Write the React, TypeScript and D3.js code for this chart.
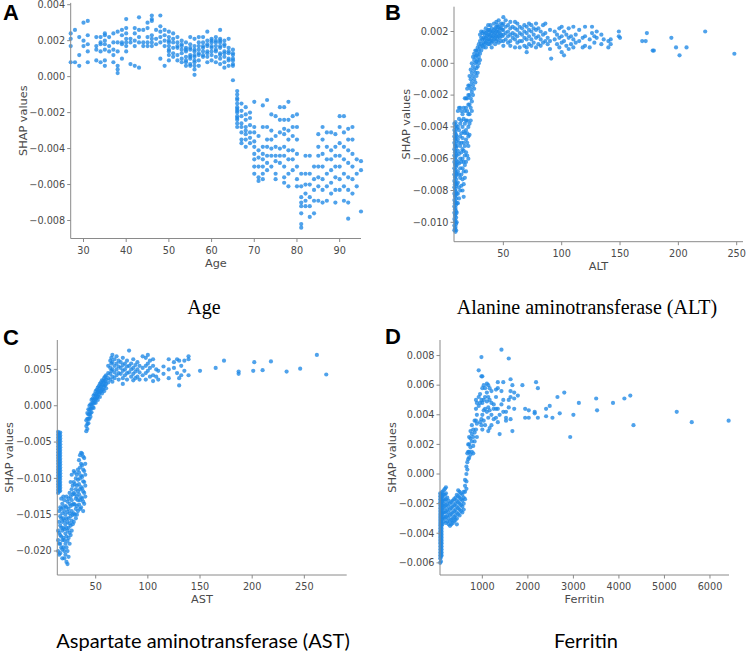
import React from "react";
import * as d3 from "d3";

// SHAP values below are stored in units of 1e-4
const SHAP_UNIT = 1e-4;

// Panel A: Age -> SHAP values (x1e-4)
const ageColumns: [number, number[]][] = [
  [27, [24, 21, 17, 8]],
  [28, [26, 8]],
  [29, [22, 12, 6]],
  [30, [30, 20, 17]],
  [31, [31, 23, 18, 14, 8]],
  [33, [22, 17, 15, 9]],
  [34, [22, 19, 18, 14, 8]],
  [35, [24, 23, 20, 18, 15, 9, 6]],
  [36, [22, 17, 14]],
  [37, [24, 19, 15, 12, 8]],
  [38, [25, 19, 14, 6, 4, 2]],
  [39, [26, 23, 19, 18, 10]],
  [40, [32, 27, 24, 21, 19, 17, 14]],
  [41, [21, 19, 7]],
  [42, [27, 24, 20, 17, 6]],
  [43, [33, 26, 22, 19, 5]],
  [44, [26, 19, 17]],
  [45, [30, 27, 22, 19, 17]],
  [46, [34, 32, 31, 23, 21, 19, 17]],
  [47, [26, 21, 18]],
  [48, [34, 28, 25, 22, 19, 10]],
  [49, [26, 23, 20, 17, 6]],
  [50, [25, 22, 20, 19, 17, 15, 14, 12, 9]],
  [51, [24, 21, 19, 16, 13, 11]],
  [52, [22, 19, 17, 16, 12, 9]],
  [53, [20, 18, 17, 15, 13, 10, 8]],
  [54, [19, 16, 15, 14, 11, 9, 8, 6]],
  [55, [22, 18, 16, 15, 12, 11, 10, 7, 6]],
  [56, [21, 17, 15, 14, 12, 11, 9, 8, 6, 4, 1]],
  [57, [22, 19, 17, 15, 13, 12, 9, 6]],
  [58, [22, 19, 17, 16, 14, 12, 11]],
  [59, [25, 20, 18, 17, 14, 13, 11, 8]],
  [60, [21, 20, 19, 17, 16, 14, 12, 9]],
  [61, [22, 20, 19, 17, 15, 14, 11, 8]],
  [62, [26, 21, 20, 19, 17, 16, 13, 12, 10, 7]],
  [63, [20, 18, 17, 14, 13, 11, 8, 5]],
  [64, [21, 16, 14, 13, 10, 9, 6]],
  [65, [15, 13, 12, 10, 9, 7, 6, -2]],
  [66, [-8, -10, -12, -13, -15, -17, -18, -19, -20, -22, -23, -24, -26, -28]],
  [67, [-15, -19, -22, -26, -28, -31, -35, -37]],
  [68, [-17, -21, -24, -28, -30, -32, -35, -39]],
  [69, [-20, -23, -27, -31, -34, -37]],
  [70, [-14, -28, -31, -36, -39, -43, -46, -50, -54]],
  [71, [-33, -41, -45, -50, -56, -58]],
  [72, [-16, -28, -39, -43, -46, -50, -54, -57]],
  [73, [-13, -28, -35, -39, -44, -48, -52]],
  [74, [-21, -30, -35, -40, -44, -50]],
  [75, [-22, -33, -39, -44, -47, -54, -57]],
  [76, [-17, -24, -31, -40, -44, -48]],
  [77, [-17, -24, -29, -32, -39, -44, -50, -56, -59]],
  [78, [-14, -24, -30, -35, -41, -46, -54, -61]],
  [79, [-22, -28, -33, -41, -46, -52]],
  [80, [-21, -28, -35, -43, -50, -57, -61]],
  [81, [-54, -61, -67, -70, -72, -76, -82, -84]],
  [82, [-44, -54, -60, -65, -69, -72]],
  [83, [-44, -54, -60, -67, -72, -78]],
  [84, [-50, -57, -63, -69, -76]],
  [85, [-32, -39, -44, -50, -56, -61, -69]],
  [86, [-28, -35, -43, -50, -57, -63, -70]],
  [87, [-31, -39, -46, -54, -61, -69]],
  [88, [-31, -41, -46, -52, -59, -65]],
  [89, [-32, -39, -44, -50, -56, -63, -70]],
  [90, [-22, -28, -37, -44, -50, -57, -63]],
  [91, [-22, -31, -39, -46, -54, -61, -69]],
  [92, [-29, -35, -41, -48, -56, -63, -70, -79]],
  [93, [-28, -35, -43, -50, -57, -65]],
  [94, [-46, -54, -61]],
  [95, [-47, -52, -75]],
];

// Panel B: ALT -> SHAP values (x1e-4)
const altColumns: [number, number[]][] = [
  [8, [-38, -42, -46, -50, -54, -58, -62, -66, -70, -74, -78, -82, -86, -90, -94, -98, -102, -105]],
  [8.5, [-40, -44, -48, -52, -56, -60, -64, -68, -72, -76, -80, -84, -88, -92, -96, -100, -104]],
  [9, [-37, -43, -47, -51, -55, -59, -63, -67, -71, -75, -79, -83, -87, -91, -95, -99, -103, -106]],
  [9.5, [-39, -45, -49, -53, -57, -61, -65, -69, -73, -77, -81, -85, -89, -93, -97, -101, -105]],
  [10, [-41, -46, -52, -58, -64, -70, -76, -82, -88, -94, -100]],
  [11, [-30, -40, -48, -55, -62, -68, -75, -82, -88]],
  [12, [-28, -35, -42, -50, -57, -63, -70, -78, -85]],
  [13, [-28, -38, -46, -52, -60, -66, -72, -80]],
  [14, [-30, -36, -44, -50, -56, -62, -70, -77]],
  [15, [-32, -40, -47, -54, -60, -66, -73, -80]],
  [16, [-28, -35, -43, -50, -55, -62, -68, -76, -84]],
  [17, [-22, -30, -38, -44, -52, -58, -64, -72]],
  [18, [-22, -28, -36, -42, -48, -56, -62, -68]],
  [19, [-16, -22, -30, -36, -44, -50, -58]],
  [20, [-14, -20, -26, -32, -40, -46, -52, -60]],
  [21, [-8, -14, -20, -26, -32, -38, -45]],
  [22, [-4, -10, -16, -22, -28, -36]],
  [23, [0, -6, -12, -18, -24, -30]],
  [24, [4, -2, -8, -14, -20]],
  [25, [6, 2, -4, -10, -16]],
  [26, [8, 4, 0, -6, -12]],
  [27, [8, 5, 1, -3, -8]],
  [28, [10, 6, 2, -2, -6]],
  [29, [12, 8, 4, 0]],
  [30, [18, 14, 10, 6, 2]],
  [31, [20, 16, 12, 8]],
  [32, [19, 15, 11]],
  [33, [20, 16, 13, 10]],
  [34, [18, 15, 12]],
  [35, [22, 19, 16, 13, 10]],
  [36, [20, 17, 14]],
  [37, [24, 21, 18, 15, 12]],
  [38, [21, 18, 15, 12]],
  [39, [24, 20, 17, 14]],
  [40, [22, 19, 16, 13, 10]],
  [41, [20, 17, 14]],
  [42, [25, 21, 18, 15]],
  [43, [22, 19, 16, 12]],
  [44, [26, 23, 20, 17, 14]],
  [45, [24, 21, 18, 15]],
  [46, [27, 23, 20, 17, 13]],
  [47, [22, 19, 16]],
  [48, [25, 22, 18, 14]],
  [49, [24, 21, 17]],
  [50, [29, 25, 21, 18, 14, 11]],
  [52, [27, 23, 19, 15]],
  [54, [24, 20, 17, 13]],
  [56, [26, 22, 18, 14, 11]],
  [58, [23, 19, 16]],
  [60, [26, 22, 18, 15, 10]],
  [62, [25, 21, 17, 13]],
  [64, [23, 19, 14, 10]],
  [66, [22, 18, 14]],
  [68, [24, 20, 16, 11]],
  [70, [23, 19, 15, 10, 7]],
  [72, [25, 21, 17, 12]],
  [74, [24, 20, 15, 11]],
  [76, [22, 18, 13]],
  [78, [25, 21, 16, 10]],
  [80, [22, 17, 12]],
  [82, [20, 15, 11]],
  [84, [24, 18, 13]],
  [86, [25, 19, 14]],
  [88, [16, 12]],
  [90, [21, 14, 9]],
  [91, [3]],
  [94, [20, 15]],
  [96, [18, 12]],
  [98, [22, 16, 10]],
  [100, [23, 17, 13, 7]],
  [102, [20, 14, 5]],
  [104, [18, 11]],
  [106, [22, 16, 9]],
  [108, [17, 12]],
  [110, [23, 15, 10]],
  [112, [18, 13]],
  [115, [21, 14]],
  [118, [16, 10]],
  [120, [23, 17, 11]],
  [124, [15, 10]],
  [126, [23, 19]],
  [128, [17, 13]],
  [130, [20, 16]],
  [134, [18, 12]],
  [136, [15]],
  [140, [14, 10]],
  [142, [15, 12]],
  [149, [20, 17]],
  [150, [16]],
  [169, [14]],
  [172, [14]],
  [173, [19]],
  [178, [8]],
  [179, [8]],
  [194, [16]],
  [198, [10]],
  [201, [5]],
  [207, [10]],
  [223, [20]],
  [248, [6]],
];

// Panel C: AST -> SHAP values (x1e-4)
const astColumns: [number, number[]][] = [
  [14, [-36, -40, -44, -48, -52, -56, -60, -64, -68, -72, -76, -80, -84, -88, -92, -96, -100, -104, -108, -112, -116, -120, -172, -185, -200]],
  [15, [-38, -42, -46, -50, -54, -58, -62, -66, -70, -74, -78, -82, -86, -90, -94, -98, -102, -106, -110, -114, -118, -145, -160, -175, -190, -205]],
  [16, [-37, -41, -45, -49, -53, -57, -61, -65, -69, -73, -77, -81, -85, -89, -93, -97, -101, -105, -109, -113, -117, -140, -152, -165, -178, -190, -203]],
  [17, [-128, -142, -155, -168, -180, -195]],
  [18, [-135, -148, -160, -172, -185, -198, -210]],
  [19, [-125, -140, -155, -168, -182, -195]],
  [20, [-130, -145, -158, -170, -185, -200, -210]],
  [21, [-138, -150, -163, -176, -190, -205]],
  [22, [-125, -140, -155, -168, -180, -195, -215]],
  [23, [-132, -146, -160, -172, -186, -200, -218]],
  [24, [-128, -142, -155, -168, -182, -208]],
  [25, [-120, -135, -148, -162, -175, -190]],
  [26, [-105, -125, -138, -152, -165, -178]],
  [27, [-95, -115, -130, -145, -158, -172]],
  [28, [-110, -122, -136, -150, -163]],
  [29, [-90, -105, -120, -135, -148, -160]],
  [30, [-92, -108, -122, -136, -150]],
  [31, [-100, -115, -128, -142, -155]],
  [32, [-95, -110, -125, -138, -150]],
  [33, [-88, -102, -118, -130, -145]],
  [34, [-75, -92, -108, -122, -136]],
  [35, [-68, -85, -100, -115, -130, -142]],
  [36, [-65, -80, -96, -112, -126, -140]],
  [37, [-66, -82, -98, -114, -128]],
  [38, [-70, -88, -104, -118, -132, -145]],
  [39, [-72, -90, -105, -120, -135]],
  [40, [-80, -95, -110, -125]],
  [41, [-20, -28, -35]],
  [42, [-10, -18, -25, -32]],
  [43, [-5, -12, -18, -24]],
  [44, [0, -6, -12, -18]],
  [45, [2, -4, -10, -15]],
  [46, [8, 2, -4, -9]],
  [47, [10, 4, -2]],
  [48, [14, 8, 3, -3]],
  [49, [16, 10, 5]],
  [50, [20, 14, 9, 4]],
  [51, [22, 16, 11]],
  [52, [25, 19, 13, 8]],
  [53, [27, 21, 16]],
  [54, [30, 24, 18, 12]],
  [55, [32, 26, 20]],
  [56, [35, 29, 23, 17]],
  [57, [34, 28, 22]],
  [58, [38, 32, 26, 20]],
  [59, [40, 34, 28]],
  [60, [42, 36, 30, 24]],
  [62, [55, 45, 38, 32]],
  [64, [62, 52, 44, 36]],
  [65, [66, 58, 48]],
  [66, [70, 60, 50, 40, 33]],
  [68, [64, 55, 46, 38]],
  [70, [68, 58, 50, 42]],
  [72, [62, 54, 45, 36]],
  [74, [60, 52, 44]],
  [76, [66, 56, 48, 38, 30]],
  [78, [58, 50, 42]],
  [80, [62, 54, 45, 36]],
  [82, [76, 55, 46]],
  [84, [58, 50, 40]],
  [86, [64, 52, 44, 35]],
  [88, [56, 47, 38]],
  [90, [60, 50, 40]],
  [92, [55, 46, 36]],
  [95, [68, 52, 42]],
  [98, [66, 55, 45, 36]],
  [100, [70, 58, 48]],
  [102, [62, 52, 40]],
  [105, [64, 55, 42, 34]],
  [108, [50, 40]],
  [110, [48, 36]],
  [115, [54, 44]],
  [120, [64, 50, 38]],
  [125, [60, 52]],
  [128, [64, 45]],
  [130, [62, 38, 28]],
  [132, [55, 42]],
  [135, [62, 48]],
  [139, [68, 64, 42]],
  [150, [48]],
  [165, [52]],
  [173, [62]],
  [187, [47, 44]],
  [201, [48]],
  [202, [60]],
  [210, [49]],
  [218, [61]],
  [233, [47]],
  [246, [51]],
  [262, [70]],
  [271, [43]],
];

// Panel D: Ferritin -> SHAP values (x1e-4)
const ferritinColumns: [number, number[]][] = [
  [75, [-13, -15, -17, -19, -21, -23, -25, -27, -29, -31, -33, -35, -37, -39, -41, -43, -45, -47, -49, -51, -53, -55, -57, -60]],
  [90, [-14, -16, -18, -20, -22, -24, -26, -28, -30, -32, -34, -36, -38, -40, -42, -44, -46, -48, -50, -52, -54, -56, -59]],
  [105, [-13, -15, -17, -19, -21, -23, -25, -27, -29, -31, -33, -35, -37, -39, -41, -43, -45, -47, -49, -51, -53, -55]],
  [120, [-12, -15, -18, -21, -24, -27, -30, -34]],
  [150, [-11, -14, -17, -20, -23, -26, -29, -32]],
  [180, [-10, -14, -18, -22, -26, -30]],
  [200, [-9, -13, -17, -21, -25, -29, -33]],
  [230, [-16, -20, -24, -28, -32]],
  [260, [-18, -22, -26, -30, -34]],
  [290, [-20, -24, -28, -32, -35]],
  [320, [-19, -23, -27, -31, -34]],
  [350, [-18, -22, -26, -30, -33]],
  [380, [-17, -21, -25, -29, -32]],
  [410, [-16, -20, -24, -28, -31]],
  [440, [-14, -18, -22, -26, -30, -34]],
  [470, [-11, -15, -19, -23, -27]],
  [500, [-12, -16, -20, -24, -28]],
  [530, [-13, -17, -21, -25]],
  [560, [-14, -18, -22, -26]],
  [590, [-12, -16, -20, -24]],
  [620, [-4, -8, -12, -17]],
  [650, [5, 0, -5, -10]],
  [670, [14, 8, 3]],
  [690, [20, 15, 10]],
  [710, [25, 20, 15, 11]],
  [740, [29, 24, 18, 13]],
  [770, [33, 27, 22, 15]],
  [800, [30, 25, 19, 14]],
  [830, [36, 28, 22]],
  [860, [50, 44, 36, 30]],
  [880, [48, 40, 34, 25]],
  [920, [70, 52, 46]],
  [950, [54, 48, 35]],
  [980, [79, 66, 50, 37, 33]],
  [1000, [66, 58, 48, 40, 30]],
  [1030, [60, 50, 43, 36]],
  [1060, [58, 52, 44, 33]],
  [1100, [61, 55, 49, 42]],
  [1130, [60, 52, 45, 38, 29]],
  [1160, [58, 50, 43, 31]],
  [1200, [56, 48, 40, 33]],
  [1250, [47, 44, 37]],
  [1300, [57, 52, 44, 38]],
  [1340, [62, 58, 44, 35]],
  [1380, [27, 40]],
  [1420, [84, 56, 47]],
  [1460, [62, 50, 42]],
  [1520, [42, 38, 36]],
  [1580, [78, 50, 45]],
  [1620, [64, 56, 52, 37]],
  [1660, [60, 29]],
  [1700, [55, 51, 44]],
  [1780, [53]],
  [1880, [60]],
  [1940, [44, 38]],
  [2020, [43, 38]],
  [2150, [41, 42]],
  [2180, [62]],
  [2220, [58, 38]],
  [2400, [44, 39]],
  [2480, [46]],
  [2540, [38]],
  [2650, [52]],
  [2700, [41]],
  [2800, [55]],
  [2930, [25]],
  [3000, [40]],
  [3120, [48]],
  [3500, [51]],
  [3520, [43]],
  [3870, [48]],
  [4120, [51]],
  [4250, [53]],
  [4320, [33]],
  [5270, [42]],
  [5600, [35]],
  [6410, [36]],
];

// Tick values
const ageXTicks = [30, 40, 50, 60, 70, 80, 90];
const ageYTicks = [0.004, 0.002, 0, -0.002, -0.004, -0.006, -0.008];
const altXTicks = [50, 100, 150, 200, 250];
const altYTicks = [0.002, 0, -0.002, -0.004, -0.006, -0.008, -0.01];
const astXTicks = [50, 100, 150, 200, 250];
const astYTicks = [0.005, 0, -0.005, -0.01, -0.015, -0.02];
const ferXTicks = [1000, 2000, 3000, 4000, 5000, 6000];
const ferYTicks = [0.008, 0.006, 0.004, 0.002, 0, -0.002, -0.004, -0.006];

const POINT_COLOR = "#1E88E5";
const AXIS_COLOR = "#8a8a8a";
const TEXT_COLOR = "#4a4a4a";
const SANS = "DejaVu Sans, Verdana, sans-serif";

type Box = { left: number; right: number; top: number; bottom: number };

function flatten(cols: [number, number[]][]): [number, number][] {
  const out: [number, number][] = [];
  cols.forEach(([x, ys]) => ys.forEach((v) => out.push([x, v * SHAP_UNIT])));
  return out;
}

const yFmt = d3.format(".3f");
const xFmt = d3.format("d");

function Panel(props: {
  box: Box;
  xDomain: [number, number];
  yDomain: [number, number];
  xTicks: number[];
  yTicks: number[];
  data: [number, number[]][];
  xLabel: string;
  letter: string;
  letterPos: [number, number];
}) {
  const { box, xDomain, yDomain, xTicks, yTicks, data, xLabel, letter, letterPos } = props;
  const x = d3.scaleLinear().domain(xDomain).range([box.left, box.right]);
  const y = d3.scaleLinear().domain(yDomain).range([box.bottom, box.top]);
  const pts = flatten(data);
  const midY = (box.top + box.bottom) / 2;
  const midX = (box.left + box.right) / 2;
  return (
    <g>
      {pts.map(([px, py], i) => (
        <circle key={i} cx={x(px)} cy={y(py)} r={2.1} fill={POINT_COLOR} fillOpacity={0.78} />
      ))}
      <line x1={box.left} x2={box.left} y1={box.top} y2={box.bottom} stroke={AXIS_COLOR} strokeWidth={1} />
      <line x1={box.left} x2={box.right} y1={box.bottom} y2={box.bottom} stroke={AXIS_COLOR} strokeWidth={1} />
      {yTicks.map((t) => (
        <g key={"y" + t}>
          <line x1={box.left - 3.5} x2={box.left} y1={y(t)} y2={y(t)} stroke={AXIS_COLOR} strokeWidth={1} />
          <text x={box.left - 5.5} y={y(t)} dy="0.34em" textAnchor="end" fontSize={9.7} fill={TEXT_COLOR} fontFamily={SANS}>
            {yFmt(t)}
          </text>
        </g>
      ))}
      {xTicks.map((t) => (
        <g key={"x" + t}>
          <line x1={x(t)} x2={x(t)} y1={box.bottom} y2={box.bottom + 3.5} stroke={AXIS_COLOR} strokeWidth={1} />
          <text x={x(t)} y={box.bottom + 15} textAnchor="middle" fontSize={9.7} fill={TEXT_COLOR} fontFamily={SANS}>
            {xFmt(t)}
          </text>
        </g>
      ))}
      <text x={midX} y={box.bottom + 28} textAnchor="middle" fontSize={11.3} fill={TEXT_COLOR} fontFamily={SANS}>
        {xLabel}
      </text>
      <text
        transform={`translate(${box.left - 44},${midY}) rotate(-90)`}
        textAnchor="middle"
        fontSize={11.3}
        fill={TEXT_COLOR}
        fontFamily={SANS}
      >
        SHAP values
      </text>
      <text x={letterPos[0]} y={letterPos[1]} fontSize={22} fontWeight="bold" fill="#000" fontFamily="Liberation Sans, Arial, sans-serif">
        {letter}
      </text>
    </g>
  );
}

export default function App() {
  return (
    <svg width={747} height={655} style={{ position: "absolute", left: 0, top: 0, background: "#fff" }}>
      <rect x={0} y={0} width={747} height={655} fill="#fff" />
      <Panel
        box={{ left: 70.7, right: 361, top: 2.9, bottom: 238.5 }}
        xDomain={[27, 95]}
        yDomain={[-0.009, 0.0041]}
        xTicks={ageXTicks}
        yTicks={ageYTicks}
        data={ageColumns}
        xLabel="Age"
        letter="A"
        letterPos={[3, 20]}
      />
      <Panel
        box={{ left: 454, right: 743, top: 6.7, bottom: 241.7 }}
        xDomain={[7.7, 255.4]}
        yDomain={[-0.01122, 0.00356]}
        xTicks={altXTicks}
        yTicks={altYTicks}
        data={altColumns}
        xLabel="ALT"
        letter="B"
        letterPos={[385, 20]}
      />
      <Panel
        box={{ left: 57.3, right: 346.7, top: 340, bottom: 575 }}
        xDomain={[13.2, 290.6]}
        yDomain={[-0.0233, 0.00905]}
        xTicks={astXTicks}
        yTicks={astYTicks}
        data={astColumns}
        xLabel="AST"
        letter="C"
        letterPos={[3, 345]}
      />
      <Panel
        box={{ left: 440, right: 729, top: 340, bottom: 575 }}
        xDomain={[70, 6418]}
        yDomain={[-0.00682, 0.00905]}
        xTicks={ferXTicks}
        yTicks={ferYTicks}
        data={ferritinColumns}
        xLabel="Ferritin"
        letter="D"
        letterPos={[385, 344]}
      />
      <text x={204} y={314} textAnchor="middle" fontSize={20} fill="#000" fontFamily="Liberation Serif, Times New Roman, serif">
        Age
      </text>
      <text x={587} y={314} textAnchor="middle" fontSize={20} fill="#000" fontFamily="Liberation Serif, Times New Roman, serif">
        Alanine aminotransferase (ALT)
      </text>
      <text x={203} y={648} textAnchor="middle" fontSize={20} fill="#000" fontFamily="Lato, Open Sans, sans-serif">
        Aspartate aminotransferase (AST)
      </text>
      <text x={586} y={648} textAnchor="middle" fontSize={20} fill="#000" fontFamily="Lato, Open Sans, sans-serif">
        Ferritin
      </text>
    </svg>
  );
}
